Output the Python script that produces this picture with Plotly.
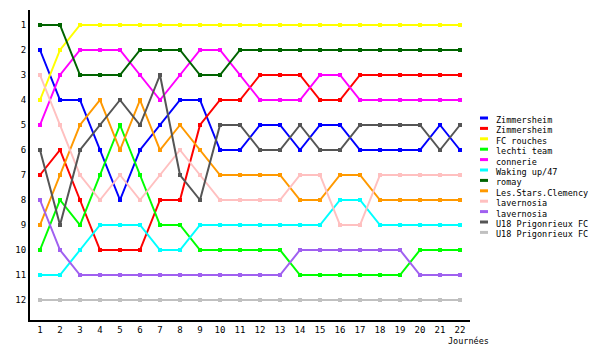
import plotly.graph_objects as go

journees = list(range(1, 23))

teams = ["Zimmersheim", "Zimmersheim", "FC rouches", "lechti team", "connerie",
         "Waking up/47", "romay", "Les.Stars.Clemency", "lavernosia", "lavernosia",
         "U18 Prigonrieux FC", "U18 Prigonrieux FC"]

colors = ["#0000ff", "#ff0000", "#ffff00", "#00ff00", "#ff00ff", "#00ffff",
          "#006400", "#ff9900", "#ffc0c0", "#a060f0", "#555555", "#c0c0c0"]

zimmersheim_1 = [2, 4, 4, 6, 8, 6, 5, 4, 4, 6, 6, 5, 5, 6, 5, 5, 6, 6, 6, 6, 5, 6]
zimmersheim_2 = [7, 6, 8, 10, 10, 10, 8, 8, 5, 4, 4, 3, 3, 3, 4, 4, 3, 3, 3, 3, 3, 3]
fc_rouches = [4, 2, 1, 1, 1, 1, 1, 1, 1, 1, 1, 1, 1, 1, 1, 1, 1, 1, 1, 1, 1, 1]
lechti_team = [10, 8, 9, 7, 5, 7, 9, 9, 10, 10, 10, 10, 10, 11, 11, 11, 11, 11, 11, 10, 10, 10]
connerie = [5, 3, 2, 2, 2, 3, 4, 3, 2, 2, 3, 4, 4, 4, 3, 3, 4, 4, 4, 4, 4, 4]
waking_up = [11, 11, 10, 9, 9, 9, 10, 10, 9, 9, 9, 9, 9, 9, 9, 8, 8, 9, 9, 9, 9, 9]
romay = [1, 1, 3, 3, 3, 2, 2, 2, 3, 3, 2, 2, 2, 2, 2, 2, 2, 2, 2, 2, 2, 2]
stars_clemency = [9, 7, 5, 4, 6, 4, 6, 5, 6, 7, 7, 7, 7, 8, 8, 7, 7, 8, 8, 8, 8, 8]
lavernosia_1 = [3, 5, 7, 8, 7, 8, 7, 6, 7, 8, 8, 8, 8, 7, 7, 9, 9, 7, 7, 7, 7, 7]
lavernosia_2 = [8, 10, 11, 11, 11, 11, 11, 11, 11, 11, 11, 11, 11, 10, 10, 10, 10, 10, 10, 11, 11, 11]
prigonrieux_1 = [6, 9, 6, 5, 4, 5, 3, 7, 8, 5, 5, 6, 6, 5, 6, 6, 5, 5, 5, 5, 6, 5]
prigonrieux_2 = [12] * 22

series = [zimmersheim_1, zimmersheim_2, fc_rouches, lechti_team, connerie, waking_up,
          romay, stars_clemency, lavernosia_1, lavernosia_2, prigonrieux_1, prigonrieux_2]

y_ticks = list(range(1, 13))
x_label = "Journées"

FONT = "DejaVu Sans Mono"

fig = go.Figure()
for name, vals, col in zip(teams, series, colors):
    fig.add_trace(go.Scatter(
        x=journees, y=vals, name=name, mode="lines+markers",
        line=dict(color=col, width=2),
        marker=dict(color=col, size=4, symbol="square"),
        showlegend=False,
    ))

# plot area in pixels: x 30..470, y 10..320
L, R, T, B = 30, 470, 10, 320
W, H = R - L, B - T

def px_x(p):
    return (p - L) / W

def px_y(p):
    return (B - p) / H

shapes = []
annotations = []
for i, (name, col) in enumerate(zip(teams, colors)):
    cy = 120 + i * 10.4
    shapes.append(dict(type="line", xref="paper", yref="paper",
                       x0=px_x(480), x1=px_x(488), y0=px_y(cy - 2), y1=px_y(cy - 2),
                       line=dict(color=col, width=3)))
    annotations.append(dict(text=name, xref="paper", yref="paper",
                            x=px_x(494), y=px_y(cy), xanchor="left", yanchor="middle",
                            showarrow=False, font=dict(family=FONT, size=8.5, color="black")))

annotations.append(dict(text=x_label, xref="paper", yref="paper",
                        x=px_x(446), y=px_y(341), xanchor="left", yanchor="middle",
                        showarrow=False, font=dict(family=FONT, size=8.5, color="black")))

fig.update_layout(
    width=600, height=350,
    margin=dict(l=L, r=600 - R, t=T, b=350 - B, pad=0),
    paper_bgcolor="white", plot_bgcolor="white",
    shapes=shapes, annotations=annotations,
    font=dict(family=FONT, size=9, color="black"),
    xaxis=dict(range=[0.5, 22.5], tickmode="array", tickvals=journees,
               ticktext=[str(j) for j in journees], showgrid=False, zeroline=False,
               showline=True, linecolor="black", linewidth=2, ticks="", ticklen=0,
               tickfont=dict(family=FONT, size=9, color="black")),
    yaxis=dict(range=[12.8, 0.4], tickmode="array", tickvals=y_ticks,
               ticktext=[str(v) for v in y_ticks], showgrid=False, zeroline=False,
               showline=True, linecolor="black", linewidth=2, ticks="", ticklen=0,
               tickfont=dict(family=FONT, size=9, color="black")),
)

fig.write_html("out.html")
